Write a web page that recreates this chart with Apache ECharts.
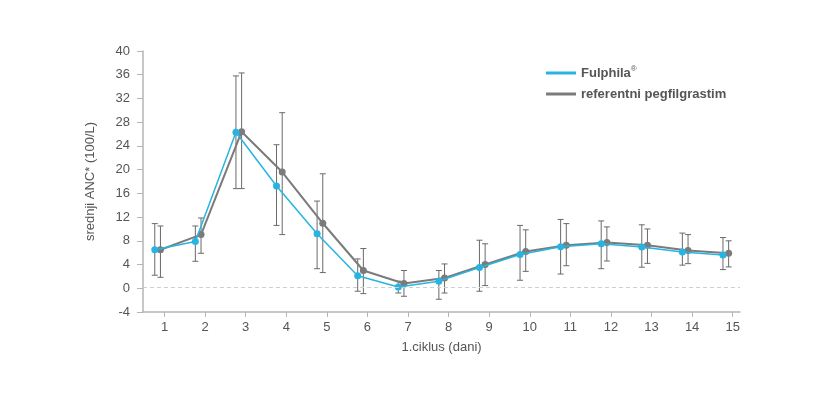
<!DOCTYPE html>
<html><head><meta charset="utf-8">
<script src="https://cdn.jsdelivr.net/npm/echarts@6/dist/echarts.min.js"></script>
<style>html,body{margin:0;padding:0;background:#fff}#c{width:821px;height:397px}</style>
</head><body><div id="c"></div>
<script>
const days = [1,2,3,4,5,6,7,8,9,10,11,12,13,14,15];
const yTicks = [-4,0,4,8,12,16,20,24,28,32,36,40];
const fulphilaMean = [6.5,7.9,26.3,17.25,9.2,2.1,0.2,1.2,3.5,5.7,7.0,7.5,6.95,6.1,5.6];
const fulphilaLow  = [2.2,4.55,16.8,10.6,3.3,-0.5,-0.8,-1.85,-0.5,1.35,2.4,3.3,3.55,3.9,3.15];
const fulphilaHigh = [10.9,10.5,35.8,24.2,14.7,4.95,1.2,3.0,8.1,10.6,11.6,11.35,10.7,9.3,8.55];
const refMean = [6.5,9.05,26.4,19.6,10.96,3.0,0.8,1.75,4.0,6.2,7.25,7.7,7.25,6.35,5.9];
const refLow  = [1.85,5.9,16.8,9.05,2.65,-0.9,-1.35,-0.8,0.45,2.85,3.8,4.6,4.2,4.15,3.6];
const refHigh = [10.5,11.85,36.3,29.6,19.3,6.7,3.0,4.1,7.5,9.85,10.9,10.35,10.0,9.05,8.0];
const fulphilaShift = -0.24;
const refShift = -0.1;
const thresholdLine = 0.25;

const cyan = '#27b4e0', gray = '#7b7b7b', errColor = '#6a6a6a';
const fx = days.map(d => d + fulphilaShift);
const rx = days.map(d => d + refShift);

function errItem(params, api) {
  const x = api.value(0), lo = api.value(1), hi = api.value(2);
  const a = api.coord([x, hi]), b = api.coord([x, lo]);
  const w = 3;
  const st = {stroke: errColor, lineWidth: 1};
  return {type: 'group', children: [
    {type: 'line', shape: {x1: a[0], y1: a[1], x2: b[0], y2: b[1]}, style: st},
    {type: 'line', shape: {x1: a[0]-w, y1: a[1], x2: a[0]+w, y2: a[1]}, style: st},
    {type: 'line', shape: {x1: b[0]-w, y1: b[1], x2: b[0]+w, y2: b[1]}, style: st}
  ]};
}

const chart = echarts.init(document.getElementById('c'));
chart.setOption({
  animation: false,
  backgroundColor: '#fff',
  textStyle: {fontFamily: 'Liberation Sans, Arial, sans-serif'},
  grid: {left: 143, right: 81, top: 51, bottom: 85},
  legend: {
    orient: 'vertical', left: 541, top: 60, itemWidth: 30, itemHeight: 3, itemGap: 8,
    icon: 'rect',
    data: [{name: 'Fulphila', itemStyle: {color: cyan}}, {name: 'referentni pegfilgrastim', itemStyle: {color: gray}}],
    formatter: n => n === 'Fulphila' ? '{b|Fulphila}{s|®}' : '{b|' + n + '}',
    textStyle: {rich: {
      b: {fontSize: 13, fontWeight: 'bold', color: '#555', fontFamily: 'Liberation Sans, Arial, sans-serif'},
      s: {fontSize: 8, color: '#555', verticalAlign: 'top', padding: [0,0,8,0], fontFamily: 'Liberation Sans, Arial, sans-serif'}
    }}
  },
  xAxis: {
    type: 'value', min: 0.47, max: 15.18,
    name: '1.ciklus (dani)', nameLocation: 'middle', nameGap: 29,
    nameTextStyle: {fontSize: 13, color: '#555'},
    axisLine: {onZero: false, lineStyle: {color: '#b5b5b5', width: 1.5}},
    axisTick: {customValues: days, length: 5, lineStyle: {color: '#b5b5b5'}},
    axisLabel: {customValues: days, fontSize: 13, color: '#555', margin: 9},
    splitLine: {show: false}
  },
  yAxis: {
    type: 'value', min: -4, max: 40, interval: 4,
    name: 'srednji ANC* (100/L)', nameLocation: 'middle', nameGap: 46, nameRotate: 90,
    nameTextStyle: {fontSize: 13, color: '#555'},
    axisLine: {show: true, lineStyle: {color: '#b5b5b5', width: 1.5}},
    axisTick: {show: true, length: 6, lineStyle: {color: '#b5b5b5'}},
    axisLabel: {fontSize: 13, color: '#555', margin: 13},
    splitLine: {show: false}
  },
  series: [
    {type: 'custom', name: 'errF', renderItem: errItem, z: 1,
     data: days.map((d,i) => [fx[i], fulphilaLow[i], fulphilaHigh[i]])},
    {type: 'custom', name: 'errR', renderItem: errItem, z: 1,
     data: days.map((d,i) => [rx[i], refLow[i], refHigh[i]])},
    {type: 'line', name: 'referentni pegfilgrastim', z: 3,
     data: days.map((d,i) => [rx[i], refMean[i]]),
     color: gray, lineStyle: {color: gray, width: 2}, symbol: 'circle', symbolSize: 7,
     itemStyle: {color: gray},
     markLine: {silent: true, symbol: 'none', label: {show: false},
       lineStyle: {color: '#cfcfcf', type: [4,3], width: 1}, data: [{yAxis: thresholdLine}]}},
    {type: 'line', name: 'Fulphila', z: 4,
     data: days.map((d,i) => [fx[i], fulphilaMean[i]]),
     color: cyan, lineStyle: {color: cyan, width: 1.5}, symbol: 'circle', symbolSize: 7,
     itemStyle: {color: cyan}}
  ]
});
</script></body></html>
